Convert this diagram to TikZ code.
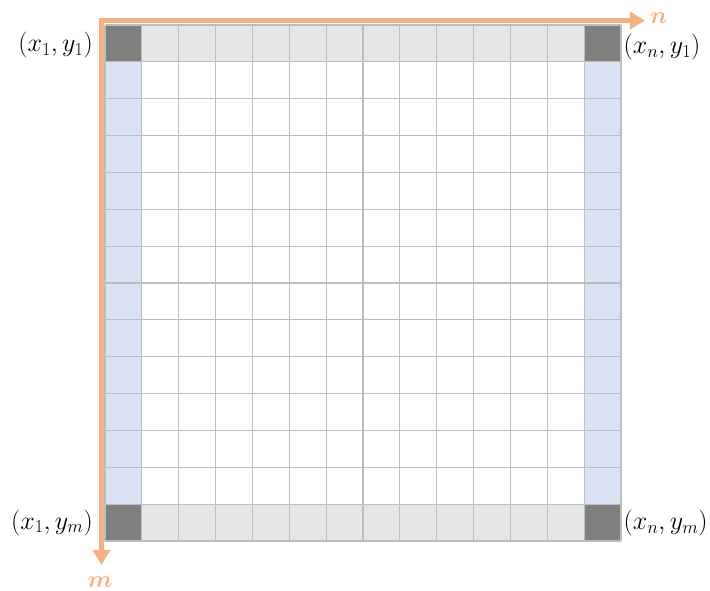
\documentclass[tikz,border=0pt]{standalone}
\usepackage{fix-cm}
\usepackage{amsmath, amssymb}
\usepackage{tikz}
\usetikzlibrary{arrows.meta}

\definecolor{axisorange}{HTML}{F4B183}
\definecolor{edgeblue}{HTML}{DAE3F3}
\definecolor{edgegray}{HTML}{E6E6E6}
\definecolor{cornerdark}{HTML}{7F7F7F}
\definecolor{linegray}{HTML}{BDBDBD}

\begin{document}
\begin{tikzpicture}[x=36.857pt, y=36.857pt,
    cellline/.style={draw=linegray, line width=1.2pt},
    axis/.style={axisorange, line width=5pt, -{Triangle[length=15pt,width=17pt]}},
    corner/.style={font=\fontsize{26}{30}\selectfont, inner sep=1pt},
    axislabel/.style={axisorange, font=\fontsize{24}{28}\selectfont}]
  \useasboundingbox (-2.849,-1.357) rectangle (16.415,14.678);

  % Border cells
  \foreach \i in {1,...,12} {
    \fill[edgegray] (\i,13) rectangle ++(1,1);
    \fill[edgegray] (\i,0) rectangle ++(1,1);
    \fill[edgeblue] (0,\i) rectangle ++(1,1);
    \fill[edgeblue] (13,\i) rectangle ++(1,1);
  }
  \foreach \p in {(0,0),(13,0),(0,13),(13,13)}
    \fill[cornerdark] \p rectangle ++(1,1);

  % Grid
  \foreach \k in {0,...,14} {
    \draw[cellline] (\k,0) -- (\k,14);
    \draw[cellline] (0,\k) -- (14,\k);
  }

  % Axes
  \coordinate (origin) at (-0.095,14.122);
  \coordinate (nend) at (14.65,14.122);
  \coordinate (mend) at (-0.095,-0.651);
  \draw[axis] ([xshift=-2.5pt]origin) -- (nend);
  \draw[axis] ([yshift=2.5pt]origin) -- (mend);
  \node[axislabel] (nlabel) at (15.02,14.18) {$\boldsymbol{n}$};
  \node[axislabel] (mlabel) at (-0.136,-1.12) {$\boldsymbol{m}$};

  % Labels
  \node[corner, anchor=east] (p11) at (-0.3,13.45) {$(x_1,y_1)$};
  \node[corner, anchor=west] (pn1) at (14.04,13.4) {$(x_n,y_1)$};
  \node[corner, anchor=east] (p1m) at (-0.3,0.5) {$(x_1,y_m)$};
  \node[corner, anchor=west] (pnm) at (14.04,0.48) {$(x_n,y_m)$};
\end{tikzpicture}
\end{document}
